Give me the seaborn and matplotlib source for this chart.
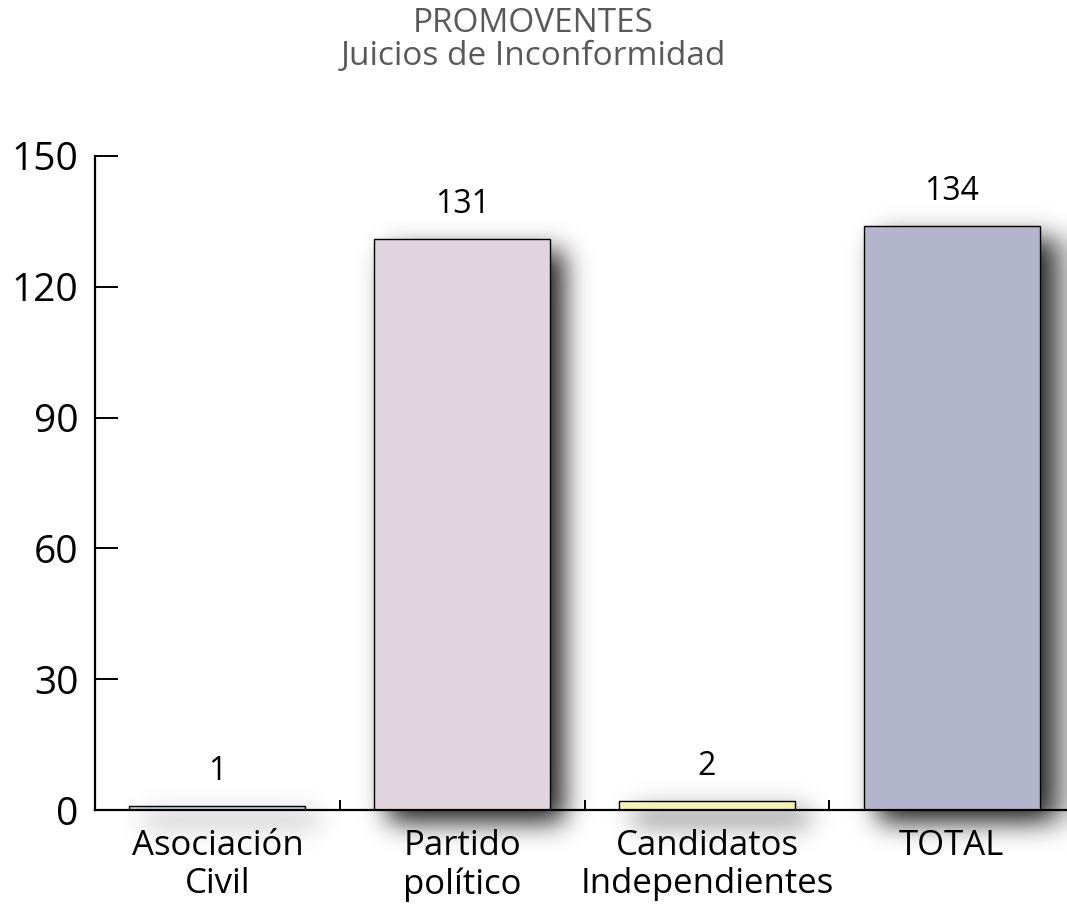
import numpy as np
import pandas as pd
import matplotlib
matplotlib.use("Agg")
import matplotlib.pyplot as plt
import seaborn as sns

# Promoventes de los juicios de inconformidad
categories = ["Asociación\nCivil", "Partido\npolítico", "Candidatos\nIndependientes", "TOTAL"]
values = [1, 131, 2, 134]
bar_colors = ["#c6d6d9", "#e2d4de", "#f4f1b9", "#b3b5cd"]
y_ticks = [0, 30, 60, 90, 120, 150]
title = "PROMOVENTES\nJuicios de Inconformidad"

sns.set_theme(style="white")
plt.rcParams["font.family"] = ["Open Sans", "DejaVu Sans"]

df = pd.DataFrame({"categoria": categories, "valor": values})

W, H = 1067, 905
fig = plt.figure(figsize=(W / 100, H / 100), dpi=100)
ax = fig.add_axes([95 / W, 95 / H, 979 / W, 654 / H])

sns.barplot(data=df, x="categoria", y="valor", hue="categoria",
            palette=bar_colors, legend=False, width=0.72,
            edgecolor="black", linewidth=1.0, saturation=1, ax=ax)

ax.set_xlim(-0.5, 3.5)
ax.set_ylim(0, 150)
ax.set_yticks(y_ticks)
ax.set_xlabel("")
ax.set_ylabel("")

for side in ("top", "right"):
    ax.spines[side].set_visible(False)
for side in ("left", "bottom"):
    ax.spines[side].set_linewidth(1.6)
    ax.spines[side].set_color("black")

ax.tick_params(axis="y", direction="in", length=16.5, width=1.4,
               labelsize=28, pad=12, colors="black", left=True)
ax.tick_params(axis="x", which="major", length=0, labelsize=25, pad=14,
               colors="black")
ax.set_xticks(np.arange(len(categories)) + 0.5, minor=True)
ax.tick_params(axis="x", which="minor", direction="in", length=7,
               width=1.4, bottom=True, color="black")
for lbl in ax.get_xticklabels():
    lbl.set_linespacing(1.15)

for cont in ax.containers:
    ax.bar_label(cont, padding=13, fontsize=23, color="black")

fig.text(0.5, 1 - 40 / H, title, ha="center", va="center",
         color="#595959", fontsize=24, linespacing=1.0)

# soft drop shadow behind the bars
ax.set_zorder(1)
ax.patch.set_alpha(0)
fig.canvas.draw()
mask = np.zeros((H, W))
dx, dy = 14, 12
for p in ax.patches:
    bb = p.get_window_extent()
    c0 = int(round(bb.x0 + dx)); c1 = int(round(bb.x1 + dx))
    r0 = int(round(H - (bb.y1 - dy))); r1 = int(round(H - (bb.y0 - dy)))
    mask[max(r0, 0):min(r1, H), max(c0, 0):min(c1, W)] = 1.0


def gauss_matrix(n, s):
    idx = np.arange(n)
    g = np.exp(-((idx[:, None] - idx[None, :]) ** 2) / (2 * s * s))
    return g / g.sum(axis=1, keepdims=True)


sigma = 13.0
blur = gauss_matrix(H, sigma) @ mask @ gauss_matrix(W, sigma).T
rgba = np.zeros((H, W, 4))
rgba[..., :3] = 0.12
rgba[..., 3] = np.clip(blur * 1.0, 0, 1)
fig.figimage(rgba, xo=0, yo=0, origin="upper", zorder=0.5)

fig.savefig("out.png", dpi=100)
